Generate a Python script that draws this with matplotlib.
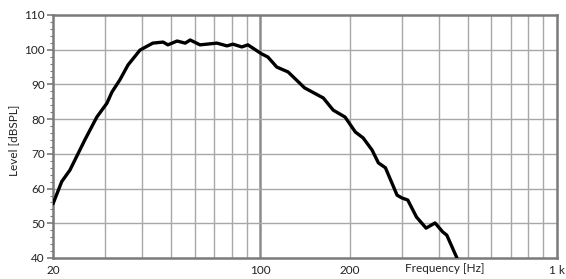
import matplotlib.pyplot as plt
from matplotlib.ticker import FixedLocator, MultipleLocator, NullFormatter
import numpy as np

plt.rcParams["font.family"] = ["Lato", "DejaVu Sans"]

# frequency response
freq_hz = [20, 21.4, 22.8, 25.6, 28.1, 30.4, 31.6, 33.6, 35.8, 39.3, 43.4,
           47, 48.8, 52.4, 55.8, 58, 62.6, 71.4, 77.2, 80.8, 86.6, 90.8,
           101, 106, 113.6, 124, 141, 163, 176, 193, 209, 222, 238, 250,
           264, 289, 300, 314, 336, 362, 388, 412, 425, 460]
level_db = [55.6, 62.0, 65.3, 74.0, 80.6, 84.6, 87.8, 91.3, 95.6, 99.9, 101.9,
            102.2, 101.4, 102.5, 101.9, 102.8, 101.4, 101.9, 101.1, 101.6, 100.8, 101.4,
            98.8, 97.9, 95.0, 93.6, 89.0, 86.1, 82.6, 80.6, 76.3, 74.6, 71.1, 67.4,
            66.0, 58.1, 57.3, 56.7, 51.8, 48.6, 50.1, 47.5, 46.6, 40.0]

grid_freqs = [30, 40, 50, 60, 70, 80, 90, 200, 300, 400, 500, 600, 700, 800, 900]
x_labels = {20: "20", 100: "100", 200: "200"}
y_ticks = [40, 50, 60, 70, 80, 90, 100, 110]

fig = plt.figure(figsize=(5.66, 2.79), dpi=100)
ax = fig.add_axes([53 / 566, 1 - 258 / 279, 504 / 566, 243 / 279])

ax.set_xscale("log")
ax.set_xlim(20, 1000)
ax.set_ylim(40, 110)

for f in grid_freqs:
    ax.axvline(f, color="#a8a8a8", lw=1.0, zorder=1)
ax.axvline(100, color="#8c8c8c", lw=1.8, zorder=1)
for y in y_ticks[1:-1]:
    ax.axhline(y, color="#a8a8a8", lw=1.0, zorder=1)

ax.plot(freq_hz, level_db, color="black", lw=2.4, solid_joinstyle="round",
        solid_capstyle="round", zorder=3, clip_on=True)

for side in ("left", "bottom", "top", "right"):
    ax.spines[side].set_color("#7a7a7a")
    ax.spines[side].set_linewidth(1.8)

ax.xaxis.set_major_locator(FixedLocator(list(x_labels)))
ax.xaxis.set_minor_locator(FixedLocator([]))
ax.set_xticklabels(list(x_labels.values()))
ax.xaxis.set_minor_formatter(NullFormatter())
ax.tick_params(axis="x", length=0, pad=5, labelsize=8.5, colors="#222222")

ax.yaxis.set_major_locator(FixedLocator(y_ticks))
ax.yaxis.set_minor_locator(MultipleLocator(2))
ax.tick_params(axis="y", which="major", length=4, width=1.2, color="#7a7a7a",
               labelsize=8.5, labelcolor="#222222", pad=2)
ax.tick_params(axis="y", which="minor", length=2.5, width=0.8, color="#7a7a7a")

fig.text(565 / 566, 1 - 270 / 279, "1 k", fontsize=8.5, color="#222222",
         ha="right", va="center")
fig.text(445 / 566, 1 - 269 / 279, "Frequency [Hz]", fontsize=8.5,
         color="#222222", ha="center", va="center")
fig.text(14 / 566, 1 - 140 / 279, "Level [dBSPL]", fontsize=8.5,
         color="#222222", ha="center", va="center", rotation=90)

fig.savefig("out.png", dpi=100)
